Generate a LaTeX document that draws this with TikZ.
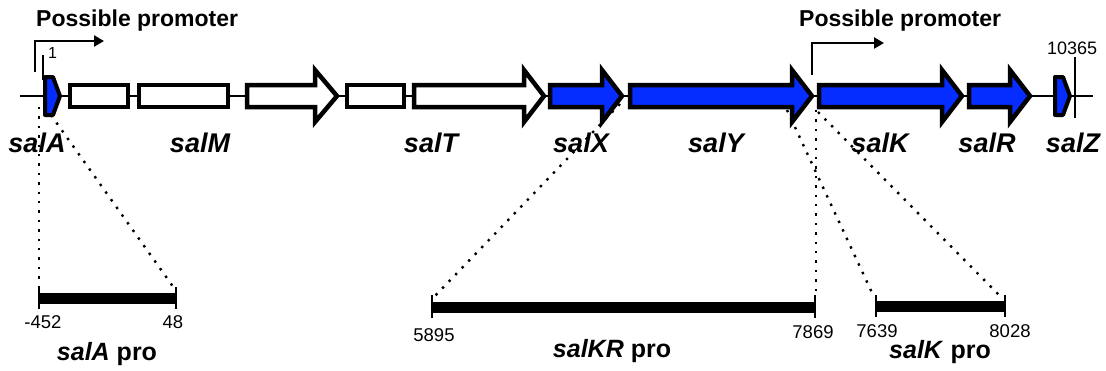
\documentclass[tikz,border=0pt]{standalone}
\usepackage{fontspec}
\setmainfont{Liberation Sans}
\usetikzlibrary{arrows.meta}
\definecolor{geneblue}{RGB}{5,45,255}
\tikzset{
  backbone/.style={line width=2.2pt},
  gene/.style={draw=black,line width=4.5pt,line join=miter,fill=white},
  bluegene/.style={gene,fill=geneblue},
  smallgene/.style={draw=black,line width=4pt,line join=round,fill=geneblue},
  genelabel/.style={font=\fontsize{27}{30}\selectfont\bfseries\itshape,inner sep=0pt,anchor=base},
  promtext/.style={font=\fontsize{23}{26}\selectfont\bfseries,inner sep=0pt,anchor=base west},
  promarrow/.style={line width=2.5pt,-{Triangle[length=10pt,width=11pt]}},
  coordtext/.style={font=\fontsize{18.5}{21}\selectfont,inner sep=0pt,anchor=base},
  protext/.style={font=\fontsize{25}{28}\selectfont\bfseries,inner sep=0pt,anchor=base},
  probar/.style={line width=11pt},
  protick/.style={line width=2.2pt},
  postick/.style={line width=2.2pt},
  zoomline/.style={line width=2.4pt,dash pattern=on 2.4pt off 7pt},
}
\newcommand\genearrow[4]{\draw[#1] (#2,85) -- (#3,85) -- (#3,70) -- (#4,96) -- (#3,122) -- (#3,107) -- (#2,107) -- cycle;}
\newcommand\genebox[2]{\draw[gene] (#1,85) rectangle (#2,107);}
\begin{document}
\begin{tikzpicture}[x=1pt,y=-1pt]
\useasboundingbox (0,0) rectangle (1106,370);
% coordinates
\coordinate (bbL) at (20,96);
\coordinate (bbR) at (1093,96);
\coordinate (aTop1) at (39,107);
\coordinate (aTop2) at (51,115);
\coordinate (krTop1) at (620,104);
\coordinate (krTop2) at (816,110);
\coordinate (kTop1) at (787,110);
\coordinate (kTop2) at (818,112);
\coordinate (aL) at (39,298);
\coordinate (aR) at (176,298);
\coordinate (krL) at (432,307);
\coordinate (krR) at (815,307);
\coordinate (kL) at (876,306);
\coordinate (kR) at (1005,306);
% dotted zoom lines
\draw[zoomline] (aTop1) -- (39,288);
\draw[zoomline] (aTop2) -- (174,288);
\draw[zoomline] (krTop1) -- (434,297);
\draw[zoomline] (krTop2) -- (816,296);
\draw[zoomline] (kTop1) -- (874,297);
\draw[zoomline] (kTop2) -- (1001,297);
% backbone
\draw[backbone] (bbL) -- (bbR);
% genes
\draw[smallgene] (45,77) -- (53,77) -- (60,96) -- (53,115) -- (45,115) -- cycle;
\genebox{70}{128}
\genebox{139}{228}
\genearrow{gene}{247}{315}{337}
\genebox{347}{404}
\genearrow{gene}{414}{524}{544}
\genearrow{bluegene}{550}{602}{622}
\genearrow{bluegene}{630}{792}{812}
\genearrow{bluegene}{819}{942}{962}
\genearrow{bluegene}{969}{1010}{1030}
\draw[smallgene] (1055,77) -- (1063,77) -- (1070,96) -- (1063,115) -- (1055,115) -- cycle;
% position ticks
\draw[postick] (43,55) -- (43,80);
\draw[postick] (1075,57) -- (1075,118);
\node[inner sep=0pt,anchor=base west,font=\fontsize{16}{18}\selectfont] (one) at (48,58) {1};
\node[inner sep=0pt,anchor=base west,font=\fontsize{18}{20}\selectfont] (end) at (1047,54) {10365};
% promoters
\coordinate (p1) at (35,72);
\coordinate (p1e) at (104,41);
\draw[promarrow] (p1) |- (p1e);
\coordinate (p2) at (812,75);
\coordinate (p2e) at (884,43);
\draw[promarrow] (p2) |- (p2e);
\node[promtext] (prom1) at (36,26) {Possible promoter};
\node[promtext] (prom2) at (799,26) {Possible promoter};
% gene labels
\node[genelabel] (salA) at (37,152) {salA};
\node[genelabel] (salM) at (200,152) {salM};
\node[genelabel] (salT) at (431,152) {salT};
\node[genelabel] (salX) at (581,152) {salX};
\node[genelabel] (salY) at (716,152) {salY};
\node[genelabel] (salK) at (880,152) {salK};
\node[genelabel] (salR) at (987,152) {salR};
\node[genelabel] (salZ) at (1073,152) {salZ};
% promoter fragments
\draw[probar] (aL) -- (aR);
\draw[protick] (39,287) -- (39,309);
\draw[protick] (176,287) -- (176,309);
\draw[probar] (krL) -- (krR);
\draw[protick] (432,295) -- (432,318);
\draw[protick] (815,295) -- (815,318);
\draw[probar] (kL) -- (kR);
\draw[protick] (876,295) -- (876,317);
\draw[protick] (1005,295) -- (1005,317);
\node[coordtext] (n1) at (43,328) {-452};
\node[coordtext] (n2) at (173,328) {48};
\node[coordtext] (n3) at (434,341) {5895};
\node[coordtext] (n4) at (813,338) {7869};
\node[coordtext] (n5) at (877,337) {7639};
\node[coordtext] (n6) at (1010,337) {8028};
\node[protext] (proA) at (107,360) {\textit{salA} pro};
\node[protext] (proKR) at (612,357) {\textit{salKR} pro};
\node[protext] (proK) at (940,358) {\textit{salK} pro};
\end{tikzpicture}
\end{document}
